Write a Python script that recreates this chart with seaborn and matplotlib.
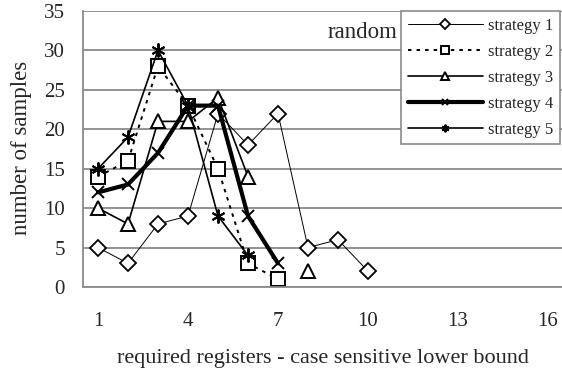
import numpy as np
import pandas as pd
import matplotlib
matplotlib.use("Agg")
import matplotlib.pyplot as plt
import seaborn as sns

# ---- data ----
categories = list(range(1, 17))
tick_labels = ["1", "4", "7", "10", "13", "16"]
s1 = [5, 3, 8, 9, 22, 18, 22, 5, 6, 2]
s2 = [14, 16, 28, 23, 15, 3, 1]
s3 = [10, 8, 21, 21, 24, 14, np.nan, 2]
s4 = [12, 13, 17, 23, 23, 9, 3]
s5 = [15, 19, 30, 23, 9, 4]
names = ["strategy 1", "strategy 2", "strategy 3", "strategy 4", "strategy 5"]

sns.set_style("white")
plt.rcParams["font.family"] = ["Liberation Serif", "DejaVu Serif"]

fig = plt.figure(figsize=(5.62, 3.76), dpi=100)
ax = fig.add_axes([83 / 562, 89 / 376, 480 / 562, 276 / 376])

styles = [
    dict(lw=0.7, linestyle="-", marker="D", ms=8.5, mfc="white", mew=1.3),
    dict(lw=1.4, linestyle=(0, (1.8, 2.6)), marker="s", ms=10, mfc="white", mew=1.4),
    dict(lw=1.2, linestyle="-", marker="^", ms=10.5, mfc="white", mew=1.4),
    dict(lw=3.0, linestyle="-", marker="x", ms=9, mfc="white", mew=1.4),
    dict(lw=1.2, linestyle="-", marker=(6, 2, 0), ms=10, mfc="white", mew=1.4),
]

for name, vals, st in zip(names, [s1, s2, s3, s4, s5], styles):
    x = np.array(categories[: len(vals)], dtype=float)
    y = np.array(vals, dtype=float)
    # split into segments at missing values
    seg = np.cumsum(np.isnan(y))
    df = pd.DataFrame({"x": x, "y": y, "seg": seg}).dropna()
    first = True
    for _, g in df.groupby("seg"):
        sns.lineplot(data=g, x="x", y="y", ax=ax, color="black",
                     linewidth=st["lw"], linestyle=st["linestyle"],
                     marker=st["marker"], markersize=st["ms"],
                     markerfacecolor=st["mfc"], markeredgecolor="black",
                     markeredgewidth=st["mew"],
                     label=name if first else None, legend=False)
        first = False

ax.set_xlim(0.5, 16.5)
ax.set_ylim(0, 35)
ax.set_yticks(np.arange(0, 36, 5))
ax.yaxis.grid(True, color="#8a8a8a", lw=1.3)
ax.set_axisbelow(True)
for s in ["top", "right"]:
    ax.spines[s].set_visible(False)
for s in ["left", "bottom"]:
    ax.spines[s].set_color("#8a8a8a")
    ax.spines[s].set_linewidth(1.3)

ax.set_xticks([1, 4, 7, 10, 13, 16])
ax.set_xticklabels(tick_labels)
ax.set_xticks(np.arange(1.5, 16.5, 1), minor=True)
ax.tick_params(axis="x", which="major", length=0, pad=18, labelsize=15)
ax.tick_params(axis="x", which="minor", length=4, direction="in", width=1.2, color="#666666")
ax.tick_params(axis="y", which="major", length=3, direction="out", width=1.2,
               color="#222222", pad=10, labelsize=15)

ax.set_xlabel("required registers - case sensitive lower bound", fontsize=16)
ax.xaxis.set_label_coords((323 - 83) / 480, -(349 - 287) / 276)
ax.set_ylabel("number of samples", fontsize=16.5)
ax.yaxis.set_label_coords(-(83 - 32) / 480, (287 - 148) / 276)

ax.text((397 - 83) / 480, (287 - 33) / 276, "random", transform=ax.transAxes,
        ha="right", va="center", fontsize=16.5)

handles, labels = ax.get_legend_handles_labels()
leg = ax.legend(handles, labels, loc="upper left",
                bbox_to_anchor=((401 - 83) / 480, 1.0), borderaxespad=0,
                fontsize=12, handlelength=4.5, handletextpad=0.3,
                labelspacing=0.6, borderpad=0.4, markerscale=0.55,
                fancybox=False, framealpha=1, edgecolor="#8a8a8a")
leg.get_frame().set_linewidth(1.2)

fig.savefig("out.png", dpi=100)
